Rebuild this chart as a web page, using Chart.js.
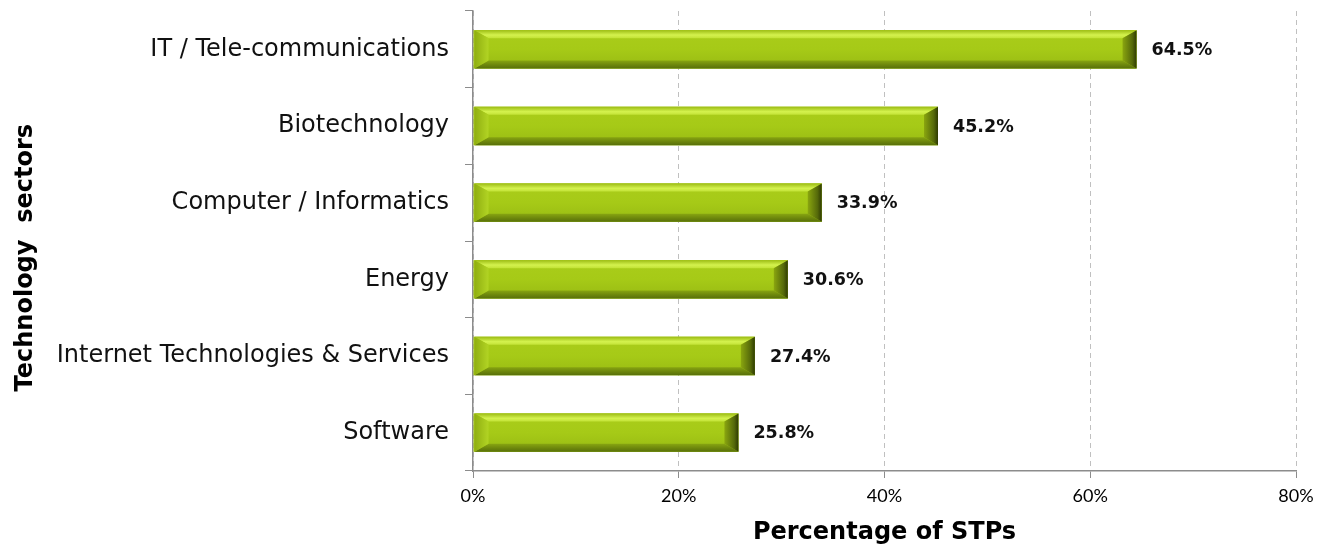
<!DOCTYPE html>
<html>
<head>
<meta charset="utf-8">
<script src="https://cdn.jsdelivr.net/npm/chart.js@4"></script>
<style>
  body { margin: 0; background: #fff; }
</style>
</head>
<body>
<canvas id="sectorsChart" width="1317" height="547"></canvas>
<script>
// data
const sectors = [
    "IT / Tele-communications",
    "Biotechnology",
    "Computer / Informatics",
    "Energy",
    "Internet Technologies & Services",
    "Software",
];
const shares = [64.5, 45.2, 33.9, 30.6, 27.4, 25.8];
const xTicks = [0, 20, 40, 60, 80];

const ctx = document.getElementById("sectorsChart").getContext("2d");

// bevelled "3D" bars + value labels
const bevelBars = {
    id: "bevelBars",
    afterDatasetsDraw(chart) {
        const c = chart.ctx;
        const meta = chart.getDatasetMeta(0);
        meta.data.forEach((bar, i) => {
            const p = bar.getProps(["x", "y", "base", "height"], true);
            const l = p.base + 1, r = p.x;
            const t = p.y - p.height / 2, b = p.y + p.height / 2;
            const bx = 14, by = 8; // bevel size

            c.save();
            // body
            const g = c.createLinearGradient(0, t, 0, b);
            g.addColorStop(0, "#aacd1a");
            g.addColorStop(0.5, "#a6ca17");
            g.addColorStop(1, "#98ba13");
            c.fillStyle = g;
            c.fillRect(l, t, r - l, b - t);

            // top bevel
            const gt = c.createLinearGradient(0, t, 0, t + by);
            gt.addColorStop(0, "#9cbc14");
            gt.addColorStop(0.6, "#d4f24e");
            gt.addColorStop(1, "#c2e236");
            c.fillStyle = gt;
            c.beginPath();
            c.moveTo(l, t); c.lineTo(r, t); c.lineTo(r - bx, t + by); c.lineTo(l + bx, t + by);
            c.closePath(); c.fill();

            // bottom bevel
            const gb = c.createLinearGradient(0, b - by, 0, b);
            gb.addColorStop(0, "#87a411");
            gb.addColorStop(0.6, "#6a830c");
            gb.addColorStop(1, "#58700a");
            c.fillStyle = gb;
            c.beginPath();
            c.moveTo(l, b); c.lineTo(r, b); c.lineTo(r - bx, b - by); c.lineTo(l + bx, b - by);
            c.closePath(); c.fill();

            // left bevel
            const gl = c.createLinearGradient(l, 0, l + bx, 0);
            gl.addColorStop(0, "#8fae10");
            gl.addColorStop(1, "#b2d424");
            c.fillStyle = gl;
            c.beginPath();
            c.moveTo(l, t); c.lineTo(l + bx, t + by); c.lineTo(l + bx, b - by); c.lineTo(l, b);
            c.closePath(); c.fill();

            // right bevel
            const gr = c.createLinearGradient(r - bx, 0, r, 0);
            gr.addColorStop(0, "#8aa60f");
            gr.addColorStop(0.7, "#55690a");
            gr.addColorStop(1, "#2e3a02");
            c.fillStyle = gr;
            c.beginPath();
            c.moveTo(r, t); c.lineTo(r - bx, t + by); c.lineTo(r - bx, b - by); c.lineTo(r, b);
            c.closePath(); c.fill();

            // value label
            c.font = "bold 17.5px 'DejaVu Sans'";
            c.fillStyle = "#111";
            c.textAlign = "left";
            c.textBaseline = "middle";
            c.fillText(shares[i].toFixed(1) + "%", r + 15, p.y + 1);
            c.restore();
        });
    },
};

new Chart(ctx, {
    type: "bar",
    data: {
        labels: sectors,
        datasets: [
            {
                data: shares,
                backgroundColor: "#a4c614",
                barPercentage: 0.5,
                categoryPercentage: 1,
            },
        ],
    },
    options: {
        indexAxis: "y",
        responsive: false,
        animation: false,
        layout: {
            padding: { top: 11, right: 21, bottom: 0, left: 0 },
        },
        plugins: {
            legend: { display: false },
            tooltip: { enabled: false },
        },
        scales: {
            x: {
                min: 0,
                max: 80,
                afterBuildTicks: (s) => {
                    s.ticks = xTicks.map((v) => ({ value: v }));
                },
                afterFit: (s) => {
                    s.height = 76;
                    s.paddingLeft = 0;
                    s.paddingRight = 0;
                },
                ticks: {
                    callback: (v) => v + "%",
                    font: { family: "Lato", size: 18 },
                    color: "#000",
                    padding: 7,
                },
                grid: {
                    color: "#c0c0c0",
                    drawTicks: true,
                    tickLength: 7,
                    tickColor: "#8c8c8c",
                    tickBorderDash: [],
                },
                border: {
                    color: "#8c8c8c",
                    width: 1.5,
                    dash: [5, 4],
                },
                title: {
                    display: true,
                    text: "Percentage of STPs",
                    font: { family: "DejaVu Sans", size: 24, weight: "bold" },
                    color: "#000",
                    padding: { top: 0, bottom: 0 },
                },
            },
            y: {
                afterFit: (s) => {
                    s.width = 473;
                    s.paddingTop = 0;
                    s.paddingBottom = 0;
                },
                ticks: {
                    font: { family: "DejaVu Sans", size: 24 },
                    color: "#111",
                    padding: 16,
                },
                grid: {
                    offset: true,
                    drawOnChartArea: false,
                    drawTicks: true,
                    tickLength: 8,
                    tickColor: "#8c8c8c",
                },
                border: {
                    color: "#8c8c8c",
                    width: 1.5,
                },
                title: {
                    display: true,
                    // trailing spaces nudge the rotated title down, like the original
                    text: "Technology  sectors    ",
                    font: { family: "DejaVu Sans", size: 24, weight: "bold" },
                    color: "#000",
                    padding: { top: 11, bottom: 0 },
                },
            },
        },
    },
    plugins: [bevelBars],
});
</script>
</body>
</html>
